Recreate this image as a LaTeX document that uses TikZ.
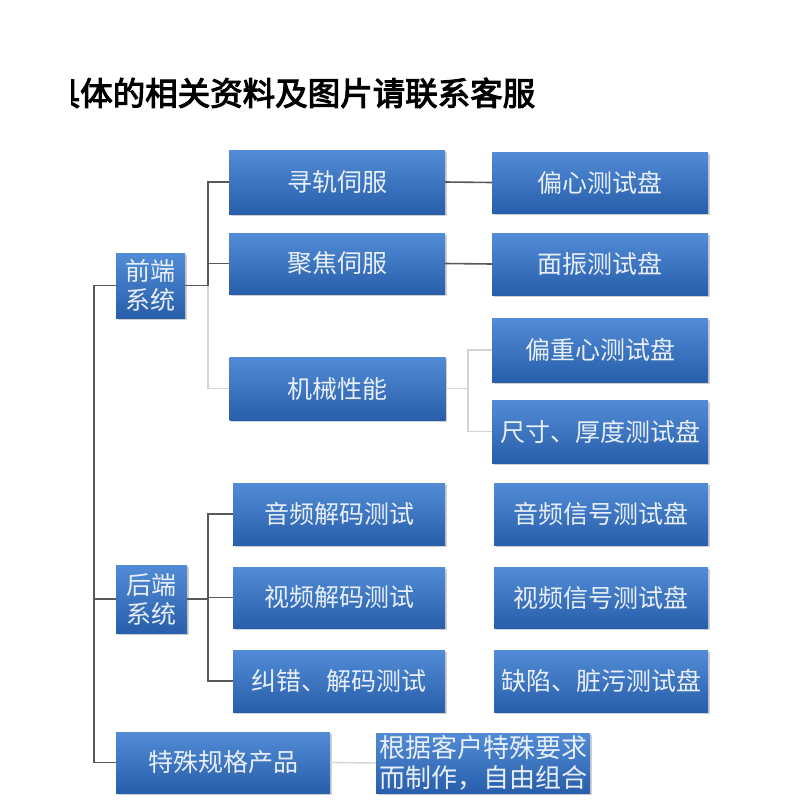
\documentclass[tikz,border=0pt]{standalone}
\usepackage{fontspec}
\newfontfamily\cjk{Noto Sans CJK SC}
\newfontfamily\cjkbold[FakeBold=3.2]{Noto Sans CJK SC}
\usetikzlibrary{shadows}
\definecolor{boxtop}{RGB}{82,140,214}
\definecolor{boxbot}{RGB}{40,94,170}
\definecolor{boxtext}{RGB}{232,239,248}
\definecolor{linecol}{RGB}{85,88,92}
\definecolor{fadecol}{RGB}{210,212,216}
\tikzset{
  bx/.style={rectangle, inner sep=0pt, top color=boxtop, bottom color=boxbot,
    text=boxtext, align=center, font=\cjk\fontsize{25}{29}\selectfont,
    drop shadow={shadow xshift=1.5pt, shadow yshift=-2pt, opacity=0.3, fill=black!60}},
  wide/.style={minimum width=216pt},
  conn/.style={draw=linecol, line width=1.6pt},
  faint/.style={draw=fadecol, line width=1.4pt}
}
\begin{document}
\begin{tikzpicture}[x=1pt,y=-1pt]
\useasboundingbox (0,0) rectangle (800,800);
\fill[white] (0,0) rectangle (800,800);
% title (first character clipped as in the picture)
\begin{scope}
\clip (71,60) rectangle (600,125);
\node[anchor=west, inner sep=0pt, font=\cjkbold\fontsize{32.5}{32.5}\selectfont] (title) at (47.5,93) {具体的相关资料及图片请联系客服};
\end{scope}
% left column
\node[bx, minimum width=69pt, minimum height=65pt] (qd) at (150.5,285.5) {前端\\系统};
\node[bx, minimum width=71pt, minimum height=68pt] (hd) at (151.5,599) {后端\\系统};
\node[bx, minimum width=214pt, minimum height=61pt] (ts) at (223,762.5) {特殊规格产品};
% middle column
\node[bx, wide, minimum height=64pt] (xg) at (337,182) {寻轨伺服};
\node[bx, wide, minimum height=61pt] (jj) at (337,263.5) {聚焦伺服};
\node[bx, wide, minimum height=63pt] (jx) at (337.5,388.5) {机械性能};
\node[bx, minimum width=212pt, minimum height=62pt] (yp) at (339,514) {音频解码测试};
\node[bx, minimum width=212pt, minimum height=61pt] (sp) at (339,597.5) {视频解码测试};
\node[bx, minimum width=212pt, minimum height=62pt] (jc) at (339,681) {纠错、解码测试};
% right column
\node[bx, wide, minimum height=61pt] (px) at (600,182.5) {偏心测试盘};
\node[bx, wide, minimum height=62pt] (mz) at (600,264) {面振测试盘};
\node[bx, wide, minimum height=64pt] (pz) at (600,350) {偏重心测试盘};
\node[bx, wide, minimum height=63pt] (cc) at (600,431.5) {尺寸、厚度测试盘};
\node[bx, minimum width=214pt, minimum height=62pt] (yx) at (601,514) {音频信号测试盘};
\node[bx, minimum width=214pt, minimum height=61pt] (sx) at (601,597.5) {视频信号测试盘};
\node[bx, minimum width=214pt, minimum height=62pt] (qx) at (601,681) {缺陷、脏污测试盘};
\node[bx, minimum width=214pt, minimum height=60pt, align=left,
  font=\cjk\fontsize{26}{30}\selectfont] (gj) at (483,763) {根据客户特殊要求\\而制作，自由组合};
% bus coordinates
\coordinate (trunk) at (94,0);
\coordinate (fbus) at (208,0);
\coordinate (mbus) at (468,0);
% trunk
\draw[conn] (qd.west) -- (trunk |- qd.west) -- (trunk |- ts.west) -- (ts.west);
\draw[conn] (hd.west) -- (trunk |- hd.west);
% front-end bus
\draw[conn] (qd.east) -- (fbus |- qd.east);
\draw[conn] (xg.west) -- (fbus |- xg.west) -- (fbus |- qd.east);
\draw[conn] (jj.west) -- (fbus |- jj.west);
\draw[faint] (fbus |- qd.east) -- (fbus |- jx.west) -- (jx.west);
% back-end bus
\draw[conn] (hd.east) -- (fbus |- hd.east);
\draw[conn] (yp.west) -- (fbus |- yp.west) -- (fbus |- jc.west) -- (jc.west);
\draw[conn] (sp.west) -- (fbus |- sp.west);
% middle to right
\draw[conn] (xg.east) -- (px.west);
\draw[conn] (jj.east) -- (mz.west);
\draw[faint] (jx.east) -- (mbus |- jx.east);
\draw[faint] (pz.west) -- (mbus |- pz.west) -- (mbus |- cc.west) -- (cc.west);
\draw[faint] (ts.east) -- (gj.west);
\end{tikzpicture}
\end{document}
